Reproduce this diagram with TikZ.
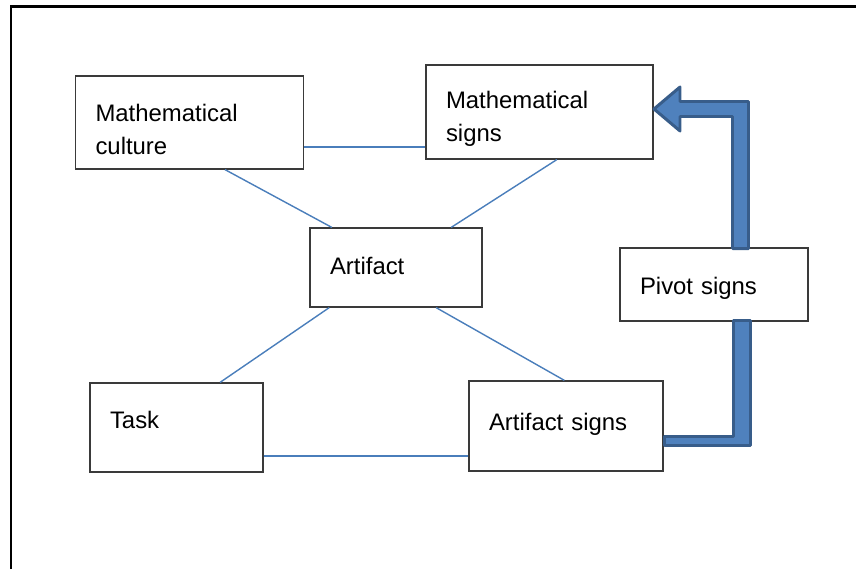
\documentclass[tikz,border=0pt]{standalone}
\usepackage{fontspec}
\setmainfont{Liberation Sans}
\usetikzlibrary{positioning}
\definecolor{linkblue}{HTML}{4A7EBB}
\definecolor{arrowfill}{HTML}{4F81BD}
\definecolor{arrowdraw}{HTML}{385D8A}
\definecolor{boxgray}{HTML}{3A3A3A}
% struts to nudge text inside a box
\newcommand{\txtup}[1]{\rule[-#1]{0pt}{0pt}}
\newcommand{\txtdown}[1]{\rule{0pt}{#1}}

\begin{document}
\begin{tikzpicture}[x=0.02cm, y=-0.02cm,
    every node/.style={font=\fontsize{13.6}{18.8}\selectfont},
    box/.style={rectangle, draw=boxgray, line width=0.7pt, align=left, inner xsep=0.4cm, inner ysep=0pt},
    link/.style={draw=linkblue, line width=0.8pt},
    fatarrow/.style={fill=arrowfill, draw=arrowdraw, line width=1.7pt, line join=round},
]
\useasboundingbox (0,0) rectangle (856,569);
% frame (top and left only)
\draw[line width=0.06cm] (11,569) -- (11,6) -- (856,6);
% boxes
\node[box, text width=3.76cm, minimum height=1.86cm] (culture) at (189.5,122.5) {\txtdown{0.63cm}Mathematical\\culture};
\node[box, text width=3.74cm, minimum height=1.88cm] (msigns) at (539.5,112) {\txtdown{0.63cm}Mathematical\\signs};
\node[box, text width=2.64cm, minimum height=1.58cm] (artifact) at (396,267.5) {Artifact\txtup{0.08cm}};
\node[box, text width=2.66cm, minimum height=1.78cm] (task) at (176.5,427.5) {Task\txtup{0.32cm}};
\node[box, text width=3.08cm, minimum height=1.8cm] (asigns) at (566,426) {Artifact signs\txtup{0.16cm}};
\node[box, text width=2.96cm, minimum height=1.46cm] (pivot) at (714,284.5) {\txtdown{0.51cm}Pivot signs};
% thin links
\draw[link] (culture.-12) -- (culture.-12 -| msigns.west);
\draw[link] (culture.-53) -- (artifact.148);
\draw[link] (msigns.-70) -- (artifact.36);
\draw[link] (artifact.-149) -- (task.46);
\draw[link] (artifact.-45) -- (asigns.92);
\draw[link] (task.-18) -- (task.-18 -| asigns.west);
% block arrows: artifact signs -> pivot signs -> mathematical signs
\draw[fatarrow] (664.5,436.5) -- (733.5,436.5) -- (733.5,320.5) -- (750.5,320.5) -- (750.5,445.5) -- (664.5,445.5) -- cycle;
\draw[fatarrow] (654,109) -- (680,87) -- (680,101.5) -- (748.5,101.5) -- (748.5,248.5) -- (732.5,248.5) -- (732.5,116.5) -- (680,116.5) -- (680,131) -- cycle;
\end{tikzpicture}
\end{document}
